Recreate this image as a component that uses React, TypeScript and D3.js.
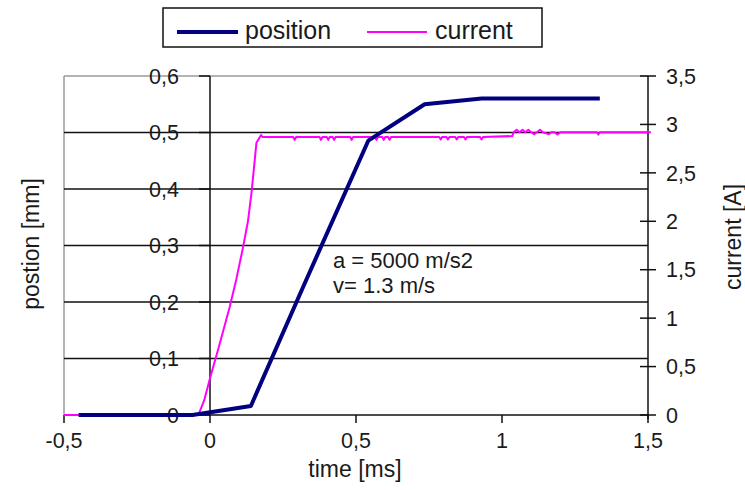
import React from "react";
import * as d3 from "d3";

const xTicks = [-0.5, 0, 0.5, 1, 1.5];
const xTickLabels = ["-0,5", "0", "0,5", "1", "1,5"];
const leftTicks = [0, 0.1, 0.2, 0.3, 0.4, 0.5, 0.6];
const leftTickLabels = ["0", "0,1", "0,2", "0,3", "0,4", "0,5", "0,6"];
const rightTicks = [0, 0.5, 1, 1.5, 2, 2.5, 3, 3.5];
const rightTickLabels = ["0", "0,5", "1", "1,5", "2", "2,5", "3", "3,5"];

// position series (time in ms, position in mm)
const posTime = [-0.45, -0.06, 0.14, 0.32, 0.542, 0.735, 0.93, 1.335];
const posMm = [0, 0, 0.016, 0.228, 0.4855, 0.55, 0.56, 0.56];

// current series (time in ms, current in A)
const curTime = [
  -0.5, -0.04, -0.02, 0, 0.03, 0.067, 0.09, 0.111, 0.13, 0.142, 0.159, 0.175, 0.18,
  0.285, 0.29, 0.295, 0.375, 0.38, 0.385, 0.40, 0.405, 0.41, 0.42, 0.425, 0.43,
  0.48, 0.485, 0.49, 0.565, 0.57, 0.575, 0.59, 0.595, 0.60, 0.61, 0.615, 0.62,
  0.785, 0.79, 0.795, 0.81, 0.815, 0.82, 0.84, 0.845, 0.85, 0.87, 0.875, 0.88,
  0.925, 0.93, 0.935, 1.035, 1.04, 1.05, 1.06, 1.07, 1.08, 1.09, 1.10, 1.11,
  1.12, 1.13, 1.14, 1.16, 1.17, 1.18, 1.19, 1.20, 1.325, 1.33, 1.335, 1.51,
];
const curAmp = [
  0, 0, 0.15, 0.38, 0.7, 1.11, 1.4, 1.7, 2.0, 2.29, 2.81, 2.89, 2.87,
  2.87, 2.84, 2.87, 2.87, 2.84, 2.87, 2.87, 2.84, 2.87, 2.87, 2.84, 2.87,
  2.87, 2.84, 2.87, 2.87, 2.84, 2.87, 2.87, 2.84, 2.87, 2.87, 2.84, 2.87,
  2.87, 2.845, 2.87, 2.87, 2.845, 2.87, 2.87, 2.845, 2.87, 2.87, 2.845, 2.87,
  2.87, 2.845, 2.87, 2.88, 2.92, 2.945, 2.92, 2.945, 2.92, 2.945, 2.92, 2.90,
  2.92, 2.945, 2.92, 2.90, 2.92, 2.92, 2.895, 2.92, 2.92, 2.895, 2.92, 2.92,
];

const FONT = "'Liberation Sans', Arial, sans-serif";

export default function App() {
  const W = 745, H = 490;
  const left = 64, right = 648, top = 76, bottom = 415;
  const x = d3.scaleLinear().domain([-0.5, 1.5]).range([left, right]);
  const yL = d3.scaleLinear().domain([0, 0.6]).range([bottom, top]);
  const yR = d3.scaleLinear().domain([0, 3.5]).range([bottom, top]);

  const posLine = d3.line<number>()
    .x((_, i) => x(posTime[i]))
    .y((d) => yL(d));
  const curLine = d3.line<number>()
    .x((_, i) => x(curTime[i]))
    .y((d) => yR(d));

  const x0 = x(0);

  return (
    <svg width={W} height={H} style={{ position: "absolute", left: 0, top: 0, background: "#fff" }} fontFamily={FONT}>
      <rect x={0} y={0} width={W} height={H} fill="#fff" />
      {/* plot border (gray) */}
      <line x1={left} x2={right} y1={top} y2={top} stroke="#9a9a9a" strokeWidth={1.5} />
      <line x1={left} x2={left} y1={top} y2={bottom} stroke="#9a9a9a" strokeWidth={1.5} />
      {/* gridlines */}
      {leftTicks.filter((t) => t > 0 && t < 0.6).map((t) => (
        <line key={t} x1={left} x2={right} y1={yL(t)} y2={yL(t)} stroke="#111" strokeWidth={1.5} />
      ))}
      {/* left axis at x=0 */}
      <line x1={x0} x2={x0} y1={top} y2={bottom} stroke="#111" strokeWidth={1.5} />
      {leftTicks.map((t) => (
        <line key={t} x1={x0 - 11} x2={x0} y1={yL(t)} y2={yL(t)} stroke="#111" strokeWidth={1.5} />
      ))}
      {leftTicks.map((t, i) => (
        <text key={t} x={179} y={yL(t)} dy="0.36em" textAnchor="end" fontSize={21.5} fill="#1a1a1a">
          {leftTickLabels[i]}
        </text>
      ))}
      {/* right axis */}
      <line x1={right} x2={right} y1={top} y2={bottom + 4} stroke="#111" strokeWidth={1.5} />
      {rightTicks.map((t) => (
        <line key={t} x1={right - 8} x2={right + 8} y1={yR(t)} y2={yR(t)} stroke="#111" strokeWidth={1.5} />
      ))}
      {rightTicks.map((t, i) => (
        <text key={t} x={666} y={yR(t)} dy="0.36em" textAnchor="start" fontSize={21.5} fill="#1a1a1a">
          {rightTickLabels[i]}
        </text>
      ))}
      {/* x axis */}
      <line x1={left} x2={right} y1={bottom} y2={bottom} stroke="#111" strokeWidth={1.5} />
      {xTicks.map((t) => (
        <line key={t} x1={x(t)} x2={x(t)} y1={bottom} y2={bottom + 8} stroke="#111" strokeWidth={1.5} />
      ))}
      {xTicks.map((t, i) => (
        <text key={t} x={x(t)} y={448} textAnchor="middle" fontSize={21.5} fill="#1a1a1a">
          {xTickLabels[i]}
        </text>
      ))}
      {/* series */}
      <path d={curLine(curAmp) || ""} fill="none" stroke="#ff00ff" strokeWidth={2} strokeLinejoin="round" />
      <path d={posLine(posMm) || ""} fill="none" stroke="#000080" strokeWidth={4} strokeLinejoin="round" />
      {/* annotation */}
      <text x={333} y={268} fontSize={22} fill="#1a1a1a">a = 5000 m/s2</text>
      <text x={333} y={293} fontSize={22} fill="#1a1a1a">v= 1.3 m/s</text>
      {/* axis titles */}
      <text x={355} y={477} textAnchor="middle" fontSize={23} fill="#1a1a1a">time [ms]</text>
      <text transform={`translate(31,244) rotate(-90)`} textAnchor="middle" dy="0.36em" fontSize={23} fill="#1a1a1a">postion [mm]</text>
      <text transform={`translate(733,237) rotate(-90)`} textAnchor="middle" dy="0.36em" fontSize={23} fill="#1a1a1a">current [A]</text>
      {/* legend */}
      <rect x={163} y={8} width={379} height={39} fill="#fff" stroke="#111" strokeWidth={1.5} />
      <line x1={177} x2={238} y1={32} y2={32} stroke="#000080" strokeWidth={4} />
      <text x={245} y={39} fontSize={25} fill="#1a1a1a">position</text>
      <line x1={367} x2={427} y1={32} y2={32} stroke="#ff00ff" strokeWidth={2} />
      <text x={435} y={39} fontSize={25} fill="#1a1a1a">current</text>
    </svg>
  );
}
